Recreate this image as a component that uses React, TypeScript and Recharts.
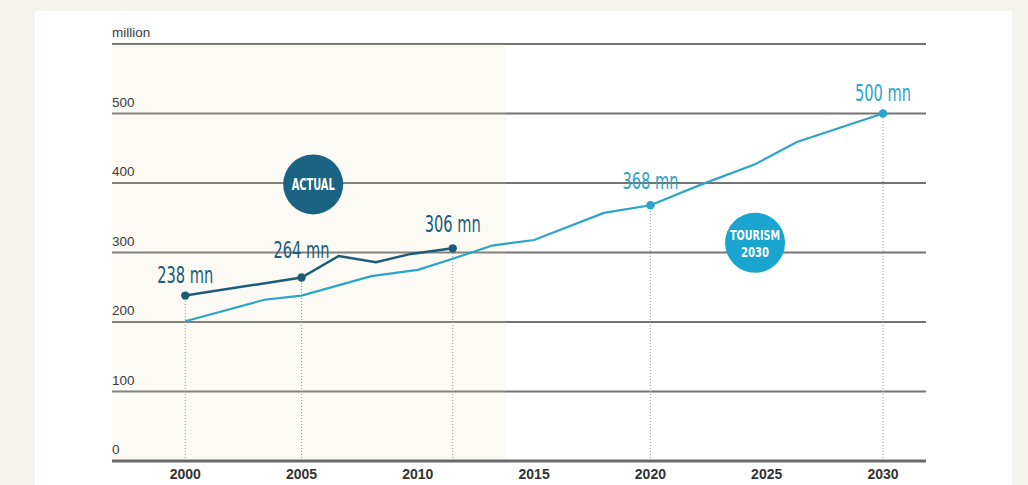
import React from 'react';
import {
  LineChart,
  Line,
  XAxis,
  YAxis,
  CartesianGrid,
  ReferenceArea,
  ReferenceLine,
  ReferenceDot,
} from 'recharts';

// international arrivals, millions
const actualYears = [2000, 2005, 2006.6, 2008.2, 2009.7, 2011.5];
const actualValues = [238, 264, 295, 286, 298, 306];
const actualLabelled = [2000, 2005, 2011.5];

const forecastYears = [2000, 2003.4, 2005, 2008, 2010, 2011.5, 2013.2, 2015, 2018, 2020, 2022.2, 2024.5, 2026.3, 2030];
const forecastValues = [201, 232, 238, 266, 275, 291, 310, 318, 357, 368, 398, 427, 459, 500];
const forecastLabelled = [2020, 2030];

const xTicks = [2000, 2005, 2010, 2015, 2020, 2025, 2030];
const yTicks = [0, 100, 200, 300, 400, 500, 600];
const yUnit = 'million';
const actualPeriodEnd = 2013.8;

const actualBadge = { year: 2005.5, value: 398, lines: ['ACTUAL'] };
const forecastBadge = { year: 2024.5, value: 314, lines: ['TOURISM', '2030'] };

// styling
const W = 1028;
const H = 485;
const PLOT_LEFT = 112;
const DARK = '#1d5c78';
const LIGHT = '#2ba4c9';
const DARK_BADGE = '#1a6382';
const LIGHT_BADGE = '#19a5cf';
const NARROW = "'Liberation Sans Narrow', 'DejaVu Sans Condensed', sans-serif";
const LABEL_RAISE: Record<number, number> = { 2000: 13, 2005: 20, 2011.5: 16, 2020: 16, 2030: 13 };

const actualPoints = actualYears.map((year, i) => ({ year, value: actualValues[i] }));
const forecastPoints = forecastYears.map((year, i) => ({ year, value: forecastValues[i] }));

const makeDot = (color: string, labelled: number[]) => (props: any) => {
  const { cx, cy, payload, index } = props;
  if (!labelled.includes(payload.year)) return <g key={index} />;
  const raise = LABEL_RAISE[payload.year] ?? 15;
  return (
    <g key={index}>
      <circle cx={cx} cy={cy} r={4.2} fill={color} />
      <text
        x={cx}
        y={cy - raise}
        textAnchor="middle"
        fill={color}
        fontSize={23}
        fontFamily={NARROW}
        textLength={56}
        lengthAdjust="spacingAndGlyphs"
      >
        {`${payload.value} mn`}
      </text>
    </g>
  );
};

const YTick = (props: any) => {
  const { y, payload } = props;
  return (
    <text x={PLOT_LEFT} y={y - 7} textAnchor="start" fontSize={13.5} fill="#3a3a3a" fontFamily="'Liberation Sans', Arial, sans-serif">
      {payload.value === 600 ? yUnit : String(payload.value)}
    </text>
  );
};

const badge = (color: string, lines: string[]) => (props: any) => {
  const { cx, cy } = props;
  const lineH = 16.5;
  const top = cy - ((lines.length - 1) * lineH) / 2 + 5.5;
  return (
    <g>
      <circle cx={cx} cy={cy} r={30} fill={color} />
      {lines.map((t, i) => (
        <text
          key={t}
          x={cx}
          y={top + i * lineH}
          textAnchor="middle"
          fill="#fff"
          fontSize={lines.length > 1 ? 14 : 16}
          fontWeight={700}
          fontFamily={NARROW}
          textLength={t.length > 4 ? (t.length === 6 ? 43 : 50) : 28}
          lengthAdjust="spacingAndGlyphs"
        >
          {t}
        </text>
      ))}
    </g>
  );
};

export default function App() {
  return (
    <div style={{ position: 'absolute', left: 0, top: 0, width: W, height: H, background: '#f5f4ef', overflow: 'hidden' }}>
      <div style={{ position: 'absolute', left: 35, top: 11, width: 977, height: H - 11, background: '#ffffff' }} />
      <div style={{ position: 'absolute', left: 0, top: 0 }}>
        <LineChart
          width={W}
          height={H}
          margin={{ top: 44, right: 102, bottom: 0, left: PLOT_LEFT }}
          style={{ fontFamily: "'Liberation Sans', Arial, sans-serif" }}
        >
          <CartesianGrid vertical={false} stroke="#747474" strokeWidth={1.8} />
          <ReferenceArea x1={1996.85} x2={actualPeriodEnd} y1={0} y2={600} fill="#e9ddb5" fillOpacity={0.14} stroke="none" />
          <XAxis
            type="number"
            dataKey="year"
            domain={[1996.85, 2031.85]}
            ticks={xTicks}
            height={24}
            tickLine={false}
            axisLine={{ stroke: '#6a6a6a', strokeWidth: 3 }}
            tick={{ fontSize: 14, fontWeight: 700, fill: '#333' }}
          />
          <YAxis
            type="number"
            domain={[0, 600]}
            ticks={yTicks}
            mirror
            interval={0}
            axisLine={false}
            tickLine={false}
            tick={<YTick />}
          />
          {actualPoints
            .filter((p) => actualLabelled.includes(p.year))
            .concat(forecastPoints.filter((p) => forecastLabelled.includes(p.year)))
            .map((p) => (
              <ReferenceLine
                key={`v${p.year}`}
                segment={[{ x: p.year, y: 0 }, { x: p.year, y: p.value }]}
                stroke="#9a9a9a"
                strokeWidth={1}
                strokeDasharray="1 2"
              />
            ))}
          <ReferenceDot x={actualBadge.year} y={actualBadge.value} r={30} shape={badge(DARK_BADGE, actualBadge.lines)} />
          <ReferenceDot x={forecastBadge.year} y={forecastBadge.value} r={30} shape={badge(LIGHT_BADGE, forecastBadge.lines)} />
          <Line
            data={forecastPoints}
            dataKey="value"
            type="linear"
            stroke={LIGHT}
            strokeWidth={2.2}
            dot={makeDot(LIGHT, forecastLabelled)}
            activeDot={false}
            isAnimationActive={false}
          />
          <Line
            data={actualPoints}
            dataKey="value"
            type="linear"
            stroke={DARK}
            strokeWidth={2.5}
            dot={makeDot(DARK, actualLabelled)}
            activeDot={false}
            isAnimationActive={false}
          />
        </LineChart>
      </div>
    </div>
  );
}
